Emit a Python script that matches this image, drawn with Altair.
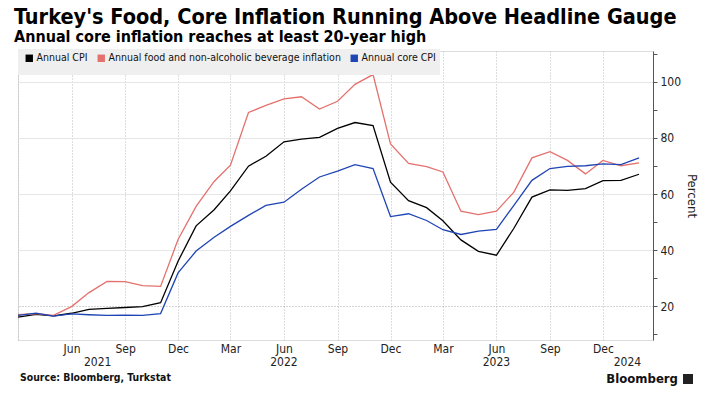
import altair as alt
import pandas as pd

months = [d.strftime("%Y-%m-%d") for d in pd.date_range("2021-03-01", "2024-02-01", freq="MS")]

cpi = [16.19, 17.14, 16.59, 17.53, 18.95, 19.25, 19.58, 19.89, 21.31, 36.08,
       48.69, 54.44, 61.14, 69.97, 73.50, 78.62, 79.60, 80.21, 83.45, 85.51, 84.39, 64.27,
       57.68, 55.18, 50.51, 43.68, 39.59, 38.21, 47.83, 58.94, 61.53, 61.36, 61.98, 64.77,
       64.86, 67.07]
food = [17.0, 17.4, 16.8, 19.9, 24.9, 28.9, 28.8, 27.4, 27.1, 43.8,
        55.6, 64.5, 70.3, 89.1, 91.6, 93.9, 94.7, 90.3, 93.1, 99.1, 102.6, 77.9,
        70.9, 69.8, 67.9, 53.9, 52.7, 53.9, 60.7, 72.9, 75.1, 72.0, 67.2, 72.0,
        70.1, 71.1]
core = [16.8, 17.6, 16.5, 17.3, 17.0, 16.8, 16.9, 16.8, 17.4, 31.9,
        39.7, 44.6, 48.5, 52.4, 56.0, 57.1, 61.7, 66.1, 68.2, 70.5, 69.1, 52.0,
        53.0, 50.6, 47.3, 45.6, 46.8, 47.4, 56.0, 64.9, 69.1, 69.9, 70.1, 70.8,
        70.5, 72.9]

series_names = ["Annual CPI", "Annual food and non-alcoholic beverage inflation", "Annual core CPI"]
series_colors = ["#000000", "#e4716d", "#1f45b5"]

year_labels = ["2021", "2022", "2023", "2024"]
year_label_dates = ["2021-07-16", "2022-06-01", "2023-06-01", "2024-01-12"]

tick_months = [(2021, 3), (2021, 6), (2021, 9), (2021, 12), (2022, 3), (2022, 6), (2022, 9),
               (2022, 12), (2023, 3), (2023, 6), (2023, 9), (2023, 12)]
y_ticks = list(range(10, 111, 10))

title = "Turkey's Food, Core Inflation Running Above Headline Gauge"
subtitle = "Annual core inflation reaches at least 20-year high"
source = "Source: Bloomberg, Turkstat"
brand = "Bloomberg"

FONT = "DejaVu Sans Condensed"

rows = []
for name, vals in zip(series_names, [cpi, food, core]):
    for m, v in zip(months, vals):
        rows.append({"date": m, "value": v, "series": name})
df = pd.DataFrame(rows)

x_scale = alt.Scale(type="utc",
                    domain=[alt.DateTime(year=2021, month=3, date=1, utc=True),
                            alt.DateTime(year=2024, month=2, date=25, utc=True)])

x_axis = alt.Axis(
    values=[alt.DateTime(year=y, month=m, date=1, utc=True) for y, m in tick_months],
    labelExpr="month(datum.value) == 2 && year(datum.value) == 2021 ? '' : utcFormat(datum.value, '%b')",
    grid=True, gridDash=[1, 2], gridColor="#bdbdbd", ticks=False, domain=False,
    labelFontSize=12, labelPadding=3, labelColor="#222", labelFont=FONT, title=None,
)

y_axis = alt.Axis(
    orient="right", values=y_ticks,
    labelExpr="datum.value % 20 === 0 ? datum.label : ''",
    title="Percent", titleFont=FONT, titleFontSize=13, titleFontWeight="normal",
    titleColor="#222", titlePadding=4,
    tickSize=4, tickColor="#555", domainColor="#555",
    labelFontSize=12, labelColor="#222", labelFont=FONT, labelPadding=3,
    grid=True,
    gridColor={"condition": {"test": "datum.value === 20", "value": "#aaaaaa"}, "value": "#e6e6e6"},
    gridDash={"condition": {"test": "datum.value === 20", "value": [1, 2]}, "value": []},
    gridOpacity={"condition": {"test": "datum.value % 20 !== 0", "value": 0}, "value": 1},
)

lines = alt.Chart(df).mark_line(strokeWidth=1.3).encode(
    x=alt.X("date:T", scale=x_scale, axis=x_axis),
    y=alt.Y("value:Q", scale=alt.Scale(domain=[8, 111], nice=False, zero=False), axis=y_axis),
    color=alt.Color("series:N",
                    scale=alt.Scale(domain=series_names, range=series_colors),
                    sort=series_names,
                    legend=alt.Legend(
                        orient="none", legendX=0, legendY=-2, direction="horizontal",
                        title=None, symbolType="square", symbolSize=2,
                        symbolStrokeWidth=6, labelFont=FONT, labelFontSize=10.5,
                        labelColor="#111", labelOffset=2, columnPadding=0,
                        labelLimit=0,
                        fillColor="#efefef", padding=4, symbolOffset=2,
                    )),
    order=alt.Order("series:N"),
)

years_df = pd.DataFrame({"date": year_label_dates, "label": year_labels})
years = alt.Chart(years_df).mark_text(
    font=FONT, fontSize=12, color="#222", baseline="top", align="center"
).encode(
    x=alt.X("date:T", scale=x_scale),
    y=alt.value(306),
    text="label:N",
)

src = alt.Chart(pd.DataFrame({"t": [source]})).mark_text(
    font=FONT, fontSize=10.4, fontWeight="bold", color="#111", align="left", baseline="middle"
).encode(x=alt.value(2), y=alt.value(327), text="t:N")

brand_txt = alt.Chart(pd.DataFrame({"t": [brand]})).mark_text(
    font=FONT, fontSize=13, fontWeight="bold", color="#111", align="right", baseline="middle"
).encode(x=alt.value(660), y=alt.value(328), text="t:N")

icon = alt.Chart(pd.DataFrame({"t": [brand]})).mark_square(
    size=100, color="#222", opacity=1
).encode(x=alt.value(670), y=alt.value(328))

chart = alt.layer(lines, years, src, brand_txt, icon).properties(
    width=635, height=289,
    title=alt.TitleParams(
        text=title, subtitle=subtitle, anchor="start", frame="group",
        font=FONT, fontSize=21.5, fontWeight="bold", color="#000",
        subtitleFont=FONT, subtitleFontSize=16, subtitleFontWeight="bold",
        subtitleColor="#000", subtitlePadding=1, offset=4, dx=-4,
    ),
    autosize=alt.AutoSizeParams(type="none"),
    padding={"left": 18, "top": 51, "right": 55, "bottom": 62},
).configure_view(stroke=None).configure(background="white")

chart.save("out.html", embed_options={"renderer": "svg", "actions": False})
